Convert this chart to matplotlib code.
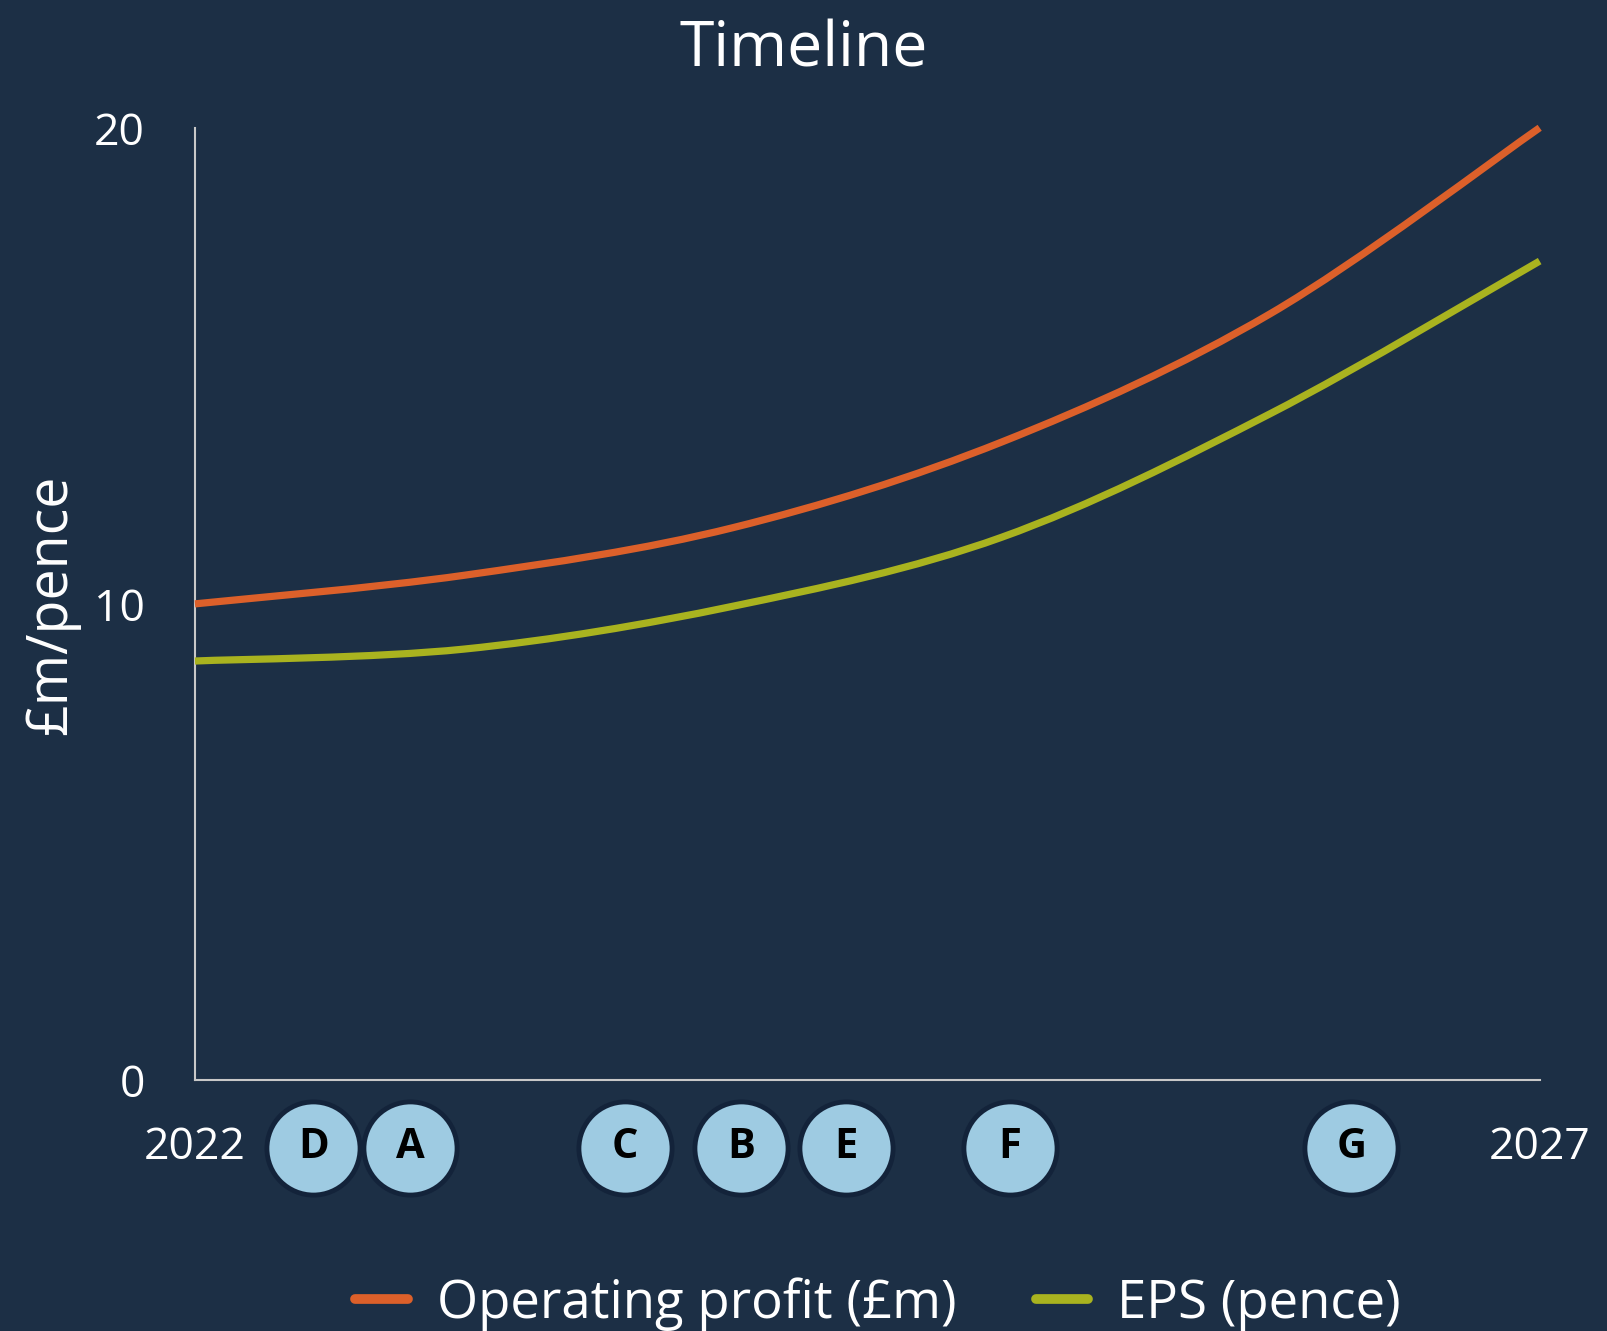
import matplotlib
matplotlib.use('Agg')
from matplotlib import pyplot as plt
from matplotlib.path import Path
from matplotlib.patches import PathPatch
from matplotlib.lines import Line2D
import matplotlib.transforms as mtransforms

years = [2022, 2023, 2024, 2025, 2026, 2027]
operating_profit = [10.0, 10.6, 11.6, 13.4, 16.1, 20.0]
eps = [8.8, 9.05, 9.95, 11.4, 14.0, 17.2]

event_labels = ['D', 'A', 'C', 'B', 'E', 'F', 'G']
event_dates = [2022.44, 2022.8, 2023.6, 2024.03, 2024.42, 2025.03, 2026.3]

y_ticks = [0, 10, 20]
x_ticks = [2022, 2027]
x_tick_labels = ['2022', '2027']

series_names = ['Operating profit (£m)', 'EPS (pence)']

BG = '#1c2f45'
ORANGE = '#dc602a'
GREEN = '#a9b31f'
BUBBLE = '#9ecbe2'
AXIS = '#c8c8c8'
FONT = 'Open Sans'


def smooth_path(xs, ys):
    # smoothed line through the points (Catmull-Rom as cubic Bezier segments)
    pts = list(zip(xs, ys))
    verts = [pts[0]]
    codes = [Path.MOVETO]
    for i in range(len(pts) - 1):
        p0 = pts[i - 1] if i > 0 else pts[i]
        p1 = pts[i]
        p2 = pts[i + 1]
        p3 = pts[i + 2] if i + 2 < len(pts) else pts[i + 1]
        c1 = (p1[0] + (p2[0] - p0[0]) / 6, p1[1] + (p2[1] - p0[1]) / 6)
        c2 = (p2[0] - (p3[0] - p1[0]) / 6, p2[1] - (p3[1] - p1[1]) / 6)
        verts += [c1, c2, p2]
        codes += [Path.CURVE4] * 3
    return Path(verts, codes)


def main():
    fig = plt.figure(figsize=(16.07, 13.31), dpi=100, facecolor=BG)
    ax = fig.add_axes([0.1213, 0.1886, 0.8368, 0.7154], facecolor=BG)

    for values, color in [(eps, GREEN), (operating_profit, ORANGE)]:
        patch = PathPatch(smooth_path(years, values), facecolor='none',
                          edgecolor=color, lw=5.2, capstyle='butt',
                          clip_on=False, zorder=3)
        ax.add_patch(patch)

    ax.set_xlim(2022, 2027)
    ax.set_ylim(0, 20)

    for side in ['top', 'right']:
        ax.spines[side].set_visible(False)
    for side in ['left', 'bottom']:
        ax.spines[side].set_color(AXIS)
        ax.spines[side].set_linewidth(1.5)

    ax.set_yticks(y_ticks)
    ax.set_yticklabels([str(v) for v in y_ticks], fontsize=32,
                       color='white', family=FONT)
    ax.tick_params(axis='y', length=0, pad=36)

    ax.set_xticks(x_ticks)
    ax.set_xticklabels(x_tick_labels, fontsize=32, color='white',
                       family=FONT, va='center')
    ax.tick_params(axis='x', length=0, pad=49)

    # event bubbles under the x axis
    trans = mtransforms.blended_transform_factory(ax.transData, ax.transAxes)
    bubble_y = -0.0714
    ax.scatter(event_dates, [bubble_y] * len(event_dates), s=4500,
               facecolor=BUBBLE, edgecolor='#13233a', linewidth=3.5,
               transform=trans, clip_on=False, zorder=4)
    for label, date in zip(event_labels, event_dates):
        ax.text(date, bubble_y, label, transform=trans, ha='center',
                va='center', fontsize=30, fontweight='bold', color='black',
                family='Open Sans', zorder=5)

    fig.text(0.5, 0.95, 'Timeline', ha='center', va='baseline',
             fontsize=45, color='white', family=FONT)
    fig.text(52 / 1607, 1 - 605 / 1331, '£m/pence', rotation=90,
             ha='center', va='center', fontsize=40, color='white',
             family=FONT)

    handles = [Line2D([], [], color=ORANGE, lw=7, solid_capstyle='round'),
               Line2D([], [], color=GREEN, lw=7, solid_capstyle='round')]
    leg = fig.legend(handles, series_names, loc='center',
                     bbox_to_anchor=(878 / 1607, 1 - 1304 / 1331), ncol=2,
                     frameon=False, handlelength=1.0, handletextpad=0.55,
                     columnspacing=1.5,
                     prop={'family': FONT, 'size': 38})
    for t in leg.get_texts():
        t.set_color('white')

    fig.savefig('out.png', dpi=100, facecolor=BG)


if __name__ == '__main__':
    main()
